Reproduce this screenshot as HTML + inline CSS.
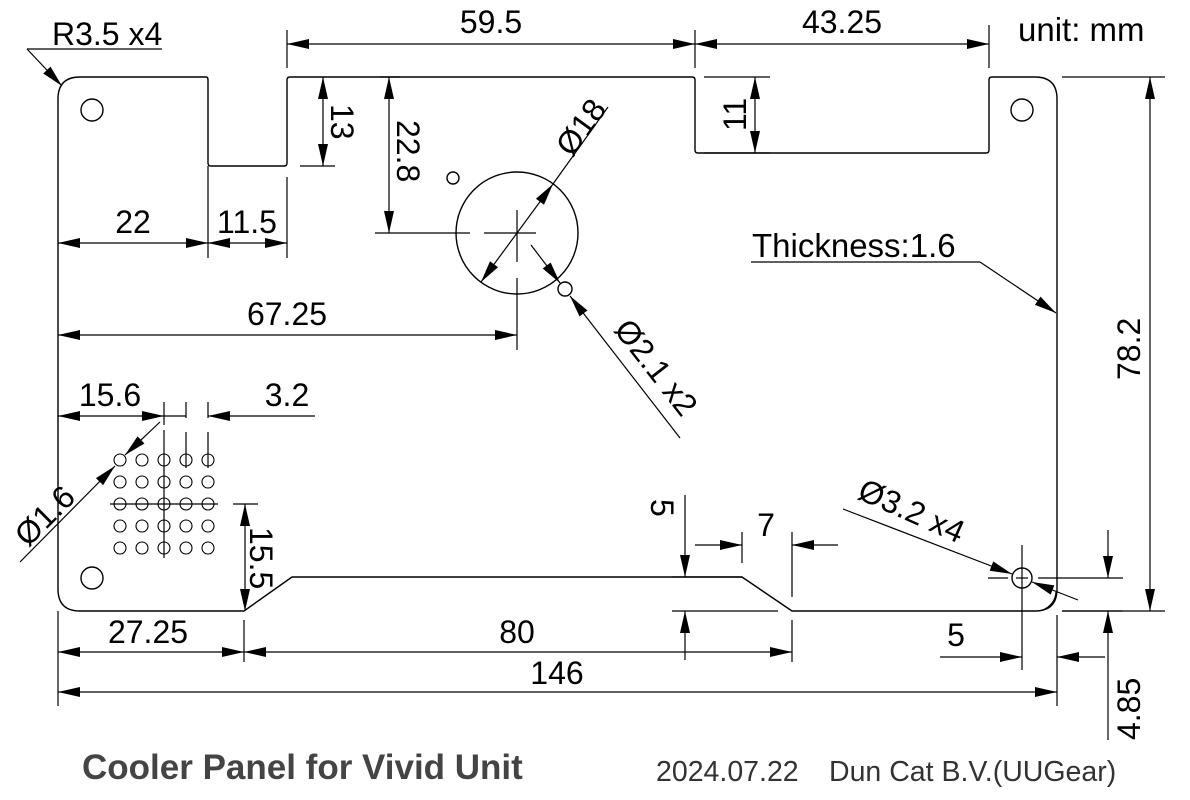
<!DOCTYPE html>
<html><head><meta charset="utf-8"><style>
html,body{margin:0;padding:0;background:#fff;}
svg{display:block;}
text{font-family:"Liberation Sans",Arial,sans-serif;fill:#000;}
</style></head><body>
<svg id="s" width="1190" height="800" viewBox="0 0 1190 800" xmlns="http://www.w3.org/2000/svg">
<g fill="none" stroke="#000" stroke-width="1.4">
<path d="M80,77 L206,77 Q208,77 208,80 L208,163 Q208,166 211,166 L284,166 Q287,166 287,163 L287,80 Q287,77 290,77 L692,77 Q695,77 695,80 L695,150 Q695,153 698,153 L986,153 Q989,153 989,150 L989,80 Q989,77 992,77 L1035,77 Q1057,77 1057,99 L1057,589 Q1057,611 1035,611 L792,611 L742,577 L292,577 L244,611 L80,611 Q58,611 58,589 L58,99 Q58,77 80,77 Z"/>
<circle cx="92" cy="110" r="11"/>
<circle cx="1022" cy="110" r="11"/>
<circle cx="92" cy="578" r="11"/>
<circle cx="1022" cy="578" r="10"/>
<circle cx="517" cy="233" r="61"/>
<circle cx="453" cy="178" r="6"/>
<circle cx="565" cy="289" r="7"/>
<g stroke-width="1.1">
<circle cx="120" cy="460" r="6"/><circle cx="142" cy="460" r="6"/><circle cx="164" cy="460" r="6"/><circle cx="186" cy="460" r="6"/><circle cx="208" cy="460" r="6"/>
<circle cx="120" cy="482" r="6"/><circle cx="142" cy="482" r="6"/><circle cx="164" cy="482" r="6"/><circle cx="186" cy="482" r="6"/><circle cx="208" cy="482" r="6"/>
<circle cx="120" cy="504" r="6"/><circle cx="142" cy="504" r="6"/><circle cx="164" cy="504" r="6"/><circle cx="186" cy="504" r="6"/><circle cx="208" cy="504" r="6"/>
<circle cx="120" cy="526" r="6"/><circle cx="142" cy="526" r="6"/><circle cx="164" cy="526" r="6"/><circle cx="186" cy="526" r="6"/><circle cx="208" cy="526" r="6"/>
<circle cx="120" cy="548" r="6"/><circle cx="142" cy="548" r="6"/><circle cx="164" cy="548" r="6"/><circle cx="186" cy="548" r="6"/><circle cx="208" cy="548" r="6"/>
</g>
</g>
<g id="dims" fill="none" stroke="#000" stroke-width="1.2">
<line x1="375" y1="233" x2="470" y2="233"/><line x1="484" y1="233" x2="536" y2="233"/>
<line x1="517" y1="210" x2="517" y2="262"/><line x1="517" y1="278" x2="517" y2="350"/>
<line x1="110" y1="504" x2="218" y2="504"/>
<line x1="164" y1="430" x2="164" y2="558"/>
<line x1="186" y1="432" x2="186" y2="468"/><line x1="208" y1="432" x2="208" y2="468"/>
<line x1="1022" y1="545" x2="1022" y2="670"/><line x1="988" y1="578" x2="1008" y2="578"/><line x1="1016" y1="578" x2="1028" y2="578"/><line x1="1038" y1="578" x2="1123" y2="578"/>
<line x1="27" y1="49" x2="162" y2="49"/>
<line class="e" x1="27" y1="49" x2="62" y2="86"/>
<line x1="287" y1="30" x2="287" y2="68"/><line x1="695" y1="30" x2="695" y2="68"/><line x1="989" y1="25" x2="989" y2="68"/>
<line class="s e" x1="287" y1="44" x2="695" y2="44"/>
<line class="s e" x1="695" y1="44" x2="989" y2="44"/>
<line x1="300" y1="166" x2="335" y2="166"/>
<line class="s e" x1="323" y1="77" x2="323" y2="166"/>
<line class="s e" x1="389" y1="77" x2="389" y2="233"/>
<line x1="380" y1="77" x2="400" y2="77"/>
<line x1="704" y1="77" x2="770" y2="77"/><line x1="704" y1="153" x2="770" y2="153"/>
<line class="s e" x1="755" y1="77" x2="755" y2="153"/>
<line x1="208" y1="166" x2="208" y2="258"/><line x1="287" y1="177" x2="287" y2="258"/>
<line class="s e" x1="58" y1="243" x2="208" y2="243"/>
<line class="s e" x1="208" y1="243" x2="287" y2="243"/>
<line class="s e" x1="58" y1="335" x2="517" y2="335"/>
<line class="s e" x1="481" y1="282" x2="553" y2="184"/>
<line x1="553" y1="184" x2="608" y2="107"/>
<line class="e" x1="531" y1="245" x2="560" y2="283"/>
<line class="e" x1="680" y1="438" x2="570" y2="296"/>
<line x1="751" y1="262" x2="980" y2="262"/>
<line class="e" x1="980" y1="262" x2="1056" y2="313"/>
<line x1="1062" y1="77" x2="1165" y2="77"/><line x1="1062" y1="611" x2="1165" y2="611"/>
<line class="s e" x1="1150" y1="77" x2="1150" y2="611"/>
<line x1="164" y1="402" x2="164" y2="425"/><line x1="186" y1="402" x2="186" y2="418"/><line x1="208" y1="402" x2="208" y2="418"/>
<line class="s e" x1="58" y1="416" x2="164" y2="416"/>
<line x1="164" y1="416" x2="186" y2="416"/>
<line class="e" x1="315" y1="416" x2="208" y2="416"/>
<line class="e" x1="20" y1="562" x2="115" y2="466"/>
<line class="e" x1="160" y1="422" x2="125" y2="455"/>
<line x1="233" y1="504" x2="258" y2="504"/>
<line class="s e" x1="245" y1="504" x2="245" y2="611"/>
<line x1="58" y1="611" x2="58" y2="706"/><line x1="244" y1="620" x2="244" y2="662"/><line x1="792" y1="620" x2="792" y2="662"/><line x1="1057" y1="615" x2="1057" y2="706"/>
<line class="s e" x1="58" y1="652" x2="244" y2="652"/>
<line class="s e" x1="244" y1="652" x2="792" y2="652"/>
<line class="s e" x1="58" y1="692" x2="1057" y2="692"/>
<line x1="672" y1="577" x2="742" y2="577"/><line x1="672" y1="611" x2="778" y2="611"/>
<line class="e" x1="685" y1="495" x2="685" y2="577"/>
<line class="e" x1="685" y1="660" x2="685" y2="611"/>
<line x1="742" y1="532" x2="742" y2="563"/><line x1="792" y1="532" x2="792" y2="597"/>
<line class="e" x1="695" y1="545" x2="742" y2="545"/>
<line class="e" x1="838" y1="545" x2="792" y2="545"/>
<line class="e" x1="843" y1="509" x2="1012" y2="574"/>
<line class="e" x1="1078" y1="600" x2="1032" y2="582"/>
<path d="M1037,611 A20,20 0 0 0 1056,592"/>
<line class="e" x1="940" y1="657" x2="1022" y2="657"/>
<line class="e" x1="1105" y1="657" x2="1057" y2="657"/>
<line x1="1062" y1="611" x2="1123" y2="611"/>
<line class="e" x1="1108" y1="530" x2="1108" y2="578"/>
<line class="e" x1="1108" y1="740" x2="1108" y2="611"/>
</g>
<g id="arrows" fill="#000" stroke="none"></g>
<g font-size="32">
<text x="52" y="45">R3.5 x4</text>
<text x="491" y="33" text-anchor="middle">59.5</text>
<text x="842" y="33" text-anchor="middle">43.25</text>
<text x="1018" y="41" font-size="33">unit: mm</text>
<text transform="translate(331,104) rotate(90)">13</text>
<text transform="translate(397,120) rotate(90)">22.8</text>
<text transform="translate(746,131) rotate(-90)">11</text>
<text x="133" y="233" text-anchor="middle">22</text>
<text x="247" y="233" text-anchor="middle">11.5</text>
<text x="287" y="325" text-anchor="middle">67.25</text>
<text transform="translate(572,158) rotate(-54)">Ø18</text>
<text transform="translate(613,330) rotate(52)">Ø2.1 x2</text>
<text x="752" y="257" font-size="33">Thickness:1.6</text>
<text transform="translate(1140,380) rotate(-90)">78.2</text>
<text x="110" y="406" text-anchor="middle">15.6</text>
<text x="287" y="406" text-anchor="middle">3.2</text>
<text transform="translate(28,548) rotate(-45)">Ø1.6</text>
<text transform="translate(250,527) rotate(90)">15.5</text>
<text x="148" y="643" text-anchor="middle">27.25</text>
<text x="517" y="643" text-anchor="middle">80</text>
<text x="557" y="684" text-anchor="middle">146</text>
<text transform="translate(651,499) rotate(90)">5</text>
<text x="766" y="536" text-anchor="middle">7</text>
<text transform="translate(856,498) rotate(24)">Ø3.2 x4</text>
<text x="956" y="646" text-anchor="middle">5</text>
<text transform="translate(1140,740) rotate(-90)">4.85</text>
</g>
<text x="82" y="779" font-size="35" font-weight="bold" style="fill:#444">Cooler Panel for Vivid Unit</text>
<text x="656" y="781" font-size="28.5" style="fill:#333">2024.07.22</text>
<text x="829" y="781" font-size="28.5" style="fill:#333">Dun Cat B.V.(UUGear)</text>
</svg>
<script>
(function(){
var ns="http://www.w3.org/2000/svg",g=document.getElementById("arrows");
function arrow(tx,ty,fx,fy){
 var dx=tx-fx,dy=ty-fy,l=Math.sqrt(dx*dx+dy*dy);if(!l)return;dx/=l;dy/=l;
 var L=22,W=5,bx=tx-dx*L,by=ty-dy*L;
 var p=document.createElementNS(ns,"polygon");
 p.setAttribute("points",tx+","+ty+" "+(bx-dy*W)+","+(by+dx*W)+" "+(bx+dy*W)+","+(by-dx*W));
 g.appendChild(p);
}
var ls=document.querySelectorAll("#dims line");
for(var i=0;i<ls.length;i++){
 var e=ls[i],c=e.getAttribute("class")||"";
 var x1=+e.getAttribute("x1"),y1=+e.getAttribute("y1"),x2=+e.getAttribute("x2"),y2=+e.getAttribute("y2");
 if(c.indexOf("e")>=0)arrow(x2,y2,x1,y1);
 if(c.indexOf("s")>=0)arrow(x1,y1,x2,y2);
}
})();
</script>
</body></html>
